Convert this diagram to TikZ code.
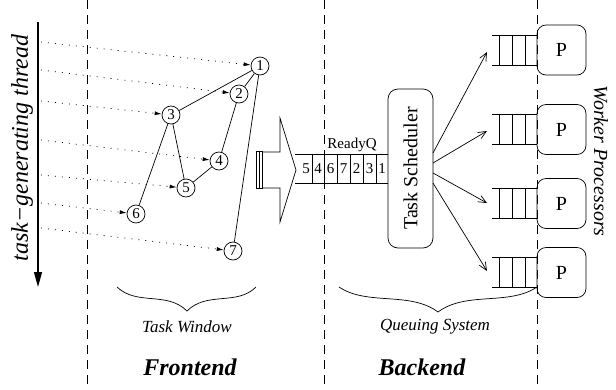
\documentclass[tikz,border=0pt]{standalone}
\usepackage{fontspec}
\setmainfont{Liberation Serif}
\usetikzlibrary{arrows.meta}
\begin{document}
\begin{tikzpicture}[x=1pt,y=-1pt,
  task/.style={circle,draw,line width=0.7pt,minimum size=18pt,inner sep=0pt,font=\fontsize{15}{15}\selectfont},
  feed/.style={line width=0.7pt,dash pattern=on 1pt off 6pt,-{Latex[length=7pt,width=4pt]}},
  dep/.style={line width=0.7pt},
  divider/.style={line width=0.7pt,dash pattern=on 9pt off 6pt},
  proc/.style={draw,rounded corners=9pt,line width=0.7pt,minimum width=49pt,minimum height=50pt,inner sep=0pt,font=\fontsize{20}{20}\selectfont},
  sched/.style={draw,rounded corners=10pt,line width=0.7pt,minimum width=159pt,minimum height=45pt,inner sep=0pt,rotate=90,font=\fontsize{20}{20}\selectfont},
  dispatch/.style={line width=0.7pt,-{Straight Barb[length=8pt,width=7pt]}},
  qline/.style={line width=0.7pt},
  cell/.style={inner sep=0pt,font=\fontsize{15}{15}\selectfont},
  brace/.style={line width=0.7pt},
  caption/.style={font=\itshape\fontsize{17}{17}\selectfont},
  section/.style={font=\bfseries\itshape\fontsize{24}{24}\selectfont},
]
\useasboundingbox (0,0) rectangle (616,389);

% section dividers
\draw[divider] (87.5,0) -- (87.5,389);
\draw[divider] (324,0) -- (324,389);
\draw[divider] (537,0) -- (537,389);

% task-generating thread
\coordinate (thtop) at (38,22);
\coordinate (thbot) at (38,287);
\draw[line width=1.4pt,-{Triangle[length=15pt,width=8pt]}] (thtop) -- (thbot);
\node[rotate=90,font=\itshape\fontsize{24}{24}\selectfont] (thlabel) at (22,148) {task\textminus generating thread};

% tasks
\node[task] (n1) at (260,66) {1};
\node[task] (n2) at (239,94) {2};
\node[task] (n3) at (171,115) {3};
\node[task] (n4) at (219,161) {4};
\node[task] (n5) at (186,188) {5};
\node[task] (n6) at (136,214) {6};
\node[task] (n7) at (233,251) {7};

% dependencies
\draw[dep] (n1) -- (n3);
\draw[dep] (n1) -- (n2);
\draw[dep] (n2) -- (n4);
\draw[dep] (n4) -- (n5);
\draw[dep] (n3) -- (n5);
\draw[dep] (n3) -- (n6);
\draw[dep] (n1) -- (n7);

% task creation
\foreach \i/\y in {1/42,2/70,3/101,4/140,5/175,6/203,7/228} {
  \coordinate (t\i) at (41,\y);
  \draw[feed] (t\i) -- (n\i);
}

% hollow transfer arrow
\draw[line width=0.7pt] (263,152) -- (280,152) -- (280,118) -- (296,170)
  -- (280,222) -- (280,188) -- (263,188);
\draw[line width=0.8pt] (256,151.5) rectangle (262,188.5);
\draw[line width=0.8pt] (259,151.5) -- (259,188.5);

% ready queue
\draw[qline] (295,154) -- (388,154);
\draw[qline] (295,183) -- (388,183);
\foreach \x in {312,324,337,350,363,376} \draw[qline] (\x,154) -- (\x,183);
\foreach \x/\v in {306/5,318/4,330.5/6,343.5/7,356.5/2,369.5/3,382/1}
  \node[cell] at (\x,169) {\v};
\node[font=\fontsize{15}{15}\selectfont,inner sep=0pt] (rq) at (352,145) {ReadyQ};

% scheduler
\node[sched] (sch) at (410.5,168.5) {Task Scheduler};

% worker processors with their queues
\foreach \i/\c in {1/50,2/129.5,3/203.5,4/272.5} {
  \node[proc] (P\i) at (561.5,\c) {P};
  \draw[qline] (492,\c-15) -- (537,\c-15);
  \draw[qline] (492,\c+15) -- (537,\c+15);
  \foreach \x in {499,512,525} \draw[qline] (\x,\c-15) -- (\x,\c+15);
}

% dispatch from scheduler
\coordinate (s1) at (433,153);
\coordinate (s2) at (433,163);
\coordinate (s3) at (433,173);
\coordinate (s4) at (433,183);
\coordinate (q1) at (487,52);
\coordinate (q2) at (487,131);
\coordinate (q3) at (487,203);
\coordinate (q4) at (487,271);
\foreach \i in {1,...,4} \draw[dispatch] (s\i) -- (q\i);

\node[rotate=-90,font=\itshape\fontsize{20}{20}\selectfont] (wp) at (601,161) {Worker Processors};

% braces
\draw[brace] (117,287) .. controls (137,306) and (167,291) .. (187,311)
  .. controls (207,291) and (237,306) .. (256,287);
\node[caption] (tw) at (187,327) {Task Window};
\draw[brace] (339,287) .. controls (367,306) and (410,291) .. (438,312)
  .. controls (466,291) and (509,306) .. (537,287);
\node[caption] (qs) at (435,327) {Queuing System};

% section titles
\node[section] (fe) at (190,367) {Frontend};
\node[section] (be) at (422,367) {Backend};
\end{tikzpicture}
\end{document}
